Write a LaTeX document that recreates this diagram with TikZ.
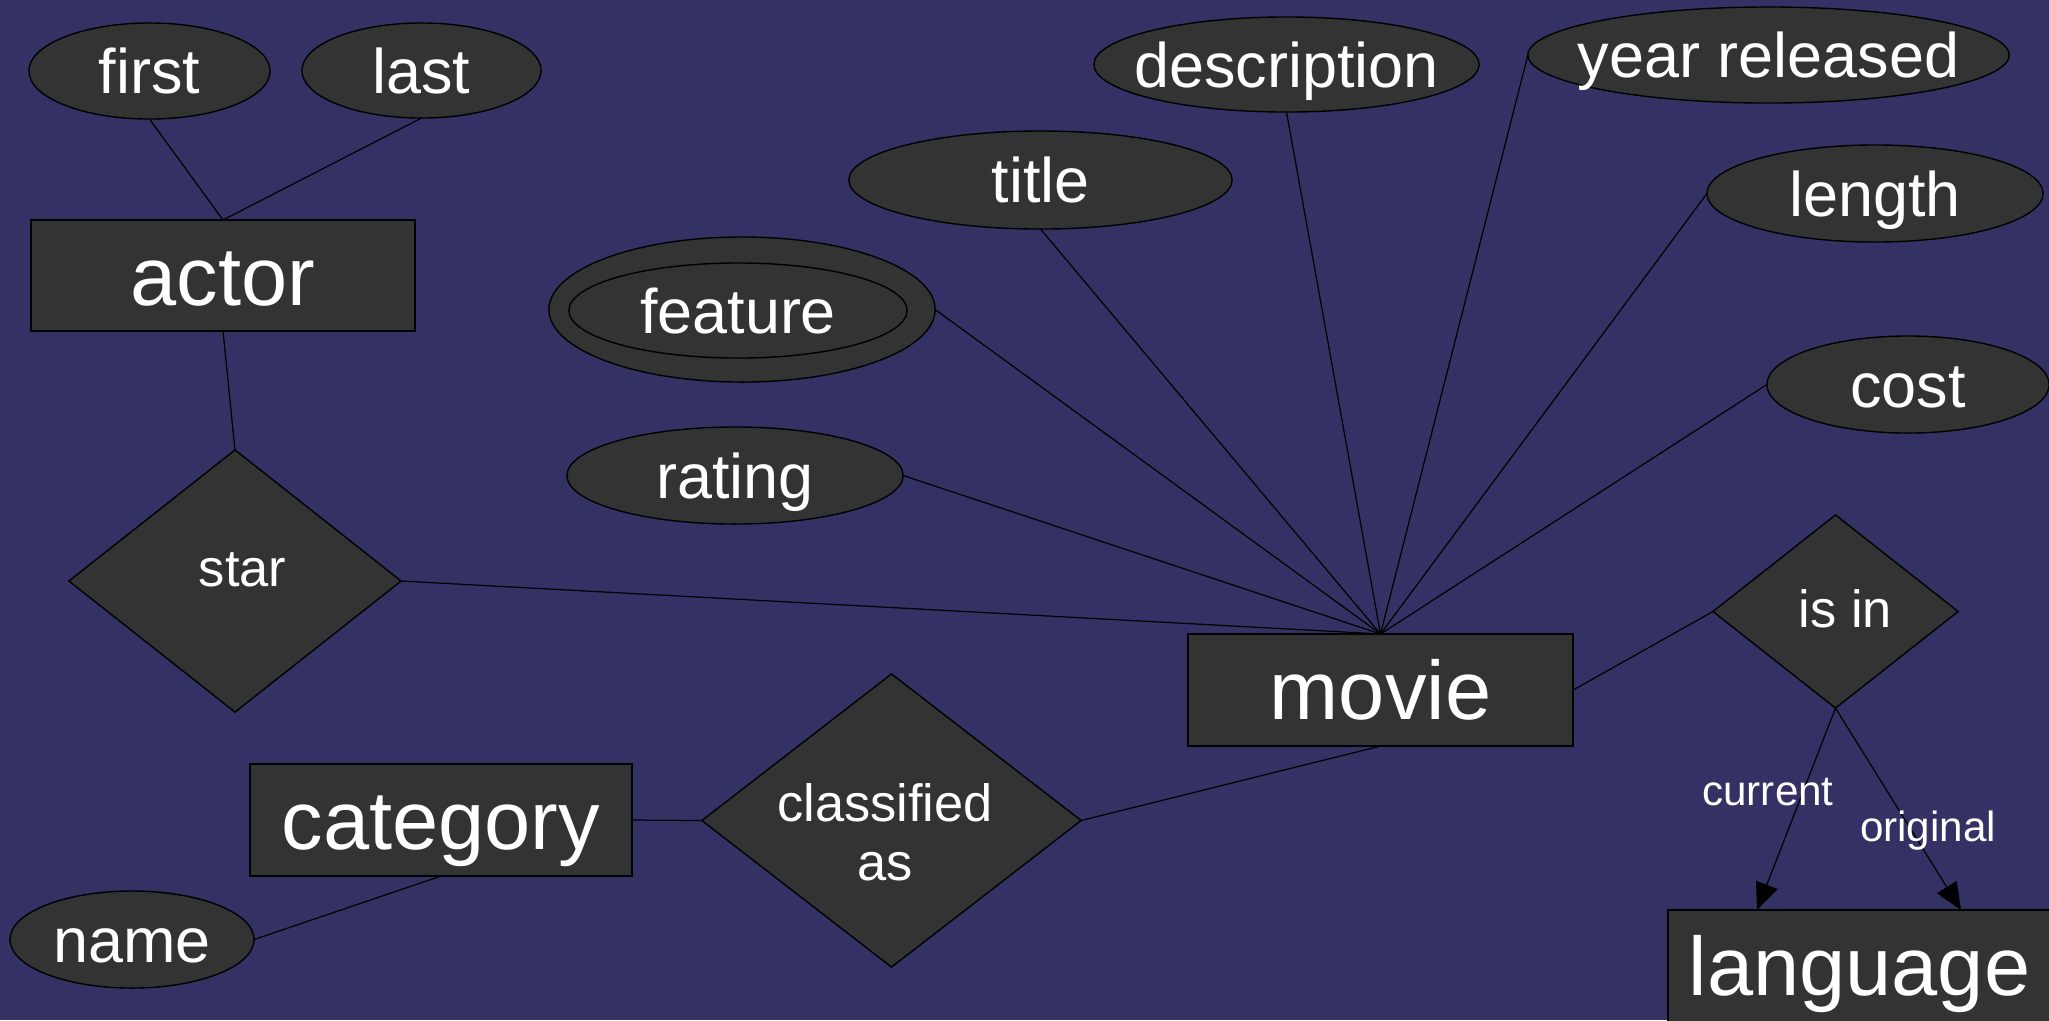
\documentclass[tikz,border=0pt]{standalone}
\usepackage{fontspec}
\setmainfont{Liberation Sans}
\usetikzlibrary{shapes.geometric,arrows.meta}
\definecolor{bgblue}{RGB}{52,50,100}
\definecolor{boxgray}{RGB}{51,51,51}
\newcommand{\fixtxt}[1]{\makebox[0pt]{\raisebox{-0.36em}[0pt][0pt]{#1}}}
\tikzset{
  ent/.style={rectangle,draw=black,fill=boxgray,inner sep=0pt,outer sep=0pt,text=white,font=\fontsize{23.6}{26}\selectfont},
  attr/.style={ellipse,draw=black,fill=boxgray,inner sep=0pt,outer sep=0pt,text=white,font=\fontsize{17.9}{20}\selectfont},
  rel/.style={diamond,draw=black,fill=boxgray,inner sep=0pt,outer sep=0pt},
  reltxt/.style={text=white,inner sep=0pt,align=center,font=\fontsize{14.9}{16.8}\selectfont},
  conn/.style={draw=black,line width=0.35pt},
  arr/.style={conn,-{Triangle[length=0.27cm,width=0.23cm]}},
  lbl/.style={text=white,inner sep=0pt,font=\fontsize{12}{14}\selectfont}
}
\begin{document}
\begin{tikzpicture}[x=0.01cm,y=-0.01cm]
\useasboundingbox (0,0) rectangle (2049,1020);
\fill[bgblue] (0,0) rectangle (2049,1020);
% entities
\node[ent,minimum width=3.84cm,minimum height=1.11cm] (actor) at (223,275.5) {\fixtxt{actor}};
\node[ent,minimum width=3.85cm,minimum height=1.12cm] (movie) at (1380.5,690) {\fixtxt{movie}};
\node[ent,minimum width=3.82cm,minimum height=1.12cm] (category) at (441,820) {\fixtxt{category}};
\node[ent,minimum width=3.83cm,minimum height=1.12cm] (language) at (1859.5,966) {\fixtxt{language}};
% attributes
\node[attr,minimum width=2.41cm,minimum height=0.96cm] (first) at (149.5,71) {\fixtxt{first}};
\node[attr,minimum width=2.39cm,minimum height=0.95cm] (last) at (421.5,70.5) {\fixtxt{last}};
\node[attr,minimum width=3.85cm,minimum height=0.95cm] (description) at (1286.5,64.5) {\fixtxt{description}};
\node[attr,minimum width=4.81cm,minimum height=0.96cm] (year) at (1768.5,55) {\fixtxt{year released}};
\node[attr,minimum width=3.83cm,minimum height=0.98cm] (title) at (1040.5,180) {\fixtxt{title}};
\node[attr,minimum width=3.36cm,minimum height=0.97cm] (length) at (1875,193.5) {\fixtxt{length}};
\node[attr,minimum width=3.86cm,minimum height=1.45cm] (featureout) at (742,309.5) {};
\node[attr,minimum width=3.38cm,minimum height=0.95cm] (feature) at (738,310.5) {\fixtxt{feature}};
\node[attr,minimum width=2.82cm,minimum height=0.97cm] (cost) at (1908,384.5) {\fixtxt{cost}};
\node[attr,minimum width=3.36cm,minimum height=0.97cm] (rating) at (735,475.5) {\fixtxt{rating}};
\node[attr,minimum width=2.44cm,minimum height=0.97cm] (name) at (132,939.5) {\fixtxt{name}};
% relationships
\node[rel,minimum width=3.32cm,minimum height=2.62cm] (star) at (235,581) {};
\node[rel,minimum width=2.45cm,minimum height=1.93cm] (isin) at (1835.5,611.5) {};
\node[rel,minimum width=3.79cm,minimum height=2.93cm] (classified) at (891.5,820.5) {};
\node[reltxt,anchor=base] (startxt) at (242.5,586) {star};
\node[reltxt,anchor=base] (isintxt) at (1845.5,627) {is in};
\node[reltxt,anchor=north] (classifiedtxt) at (885,783) {classified\\as};
% connectors
\draw[conn] (first.south) -- (actor.north);
\draw[conn] (last.south) -- (actor.north);
\draw[conn] (actor.south) -- (star.north);
\draw[conn] (star.east) -- (movie.north);
\draw[conn] (rating.east) -- (movie.north);
\draw[conn] (featureout.east) -- (movie.north);
\draw[conn] (title.south) -- (movie.north);
\draw[conn] (description.south) -- (movie.north);
\draw[conn] (year.west) -- (movie.north);
\draw[conn] (length.west) -- (movie.north);
\draw[conn] (cost.west) -- (movie.north);
\draw[conn] (movie.east) -- (isin.west);
\draw[conn] (movie.south) -- (classified.east);
\draw[conn] (classified.west) -- (category.east);
\draw[conn] (category.south) -- (name.east);
\coordinate (lcur) at (1757,910);
\coordinate (lorig) at (1961,910);
\draw[arr] (isin.south) -- (lcur);
\draw[arr] (isin.south) -- (lorig);
\node[lbl] (current) at (1768,792) {current};
\node[lbl] (original) at (1928,831) {original};
\end{tikzpicture}
\end{document}
